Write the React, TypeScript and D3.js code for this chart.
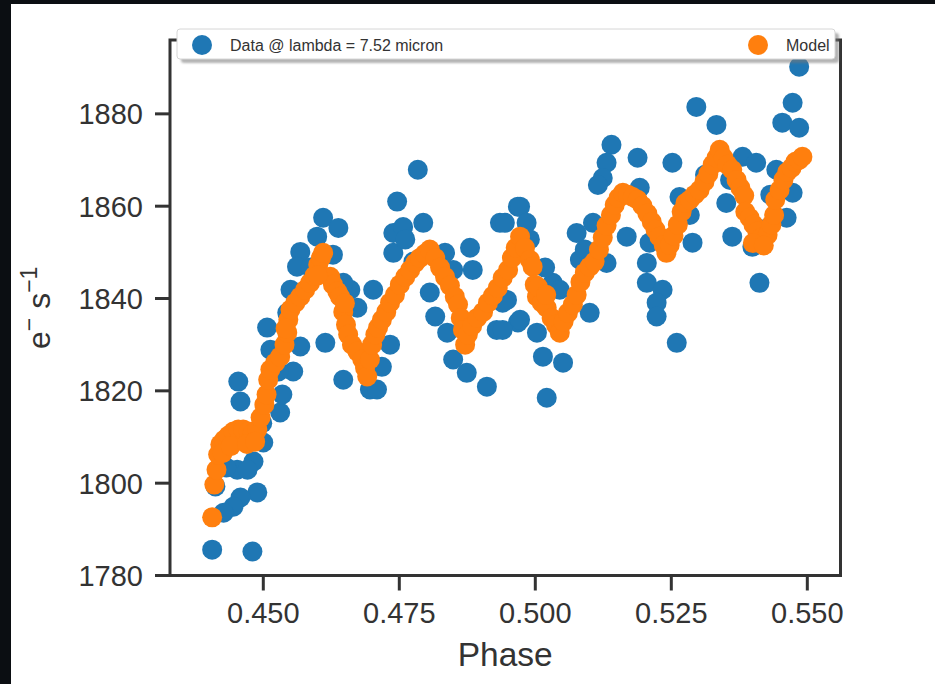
import React from 'react';
import * as d3 from 'd3';

// ---------- data ----------
const dataPhase = [
  0.4406, 0.4480, 0.4489, 0.4458, 0.4445, 0.4427, 0.4412, 0.4452, 0.4482, 0.4500,
  0.4531, 0.4458, 0.4454, 0.4507, 0.4513, 0.4555, 0.4568, 0.4550, 0.4544, 0.4568,
  0.4562, 0.4599, 0.4610, 0.4638, 0.4628, 0.4660, 0.4673, 0.4614, 0.4647, 0.4696,
  0.4709, 0.4718, 0.4733, 0.4702, 0.4746, 0.4784, 0.4739, 0.4757, 0.4794, 0.4739,
  0.4806, 0.4816, 0.4838, 0.4849, 0.4874, 0.4911, 0.4834, 0.4849, 0.4885, 0.4935,
  0.4929, 0.4968, 0.4968, 0.4948, 0.5485, 0.5473, 0.5454, 0.5485, 0.5296, 0.5333,
  0.5140, 0.5131, 0.5124, 0.5188, 0.5252, 0.5381, 0.5406, 0.5443, 0.5473, 0.5462,
  0.5362, 0.5399, 0.5412, 0.5265, 0.5351, 0.5289, 0.5210, 0.5205, 0.5205, 0.5234,
  0.5223, 0.5223, 0.5260, 0.5168, 0.5106, 0.5076, 0.5082, 0.5131, 0.5100, 0.4972,
  0.4984, 0.4944, 0.4940, 0.4972, 0.5003, 0.5014, 0.5051, 0.5021, 0.5032, 0.5045,
  0.4940, 0.4432, 0.4471, 0.4498, 0.4535, 0.4528, 0.4587, 0.4647, 0.4761, 0.4776,
  0.4880, 0.4990, 0.5018, 0.5091, 0.5115, 0.5192, 0.5284, 0.5312, 0.5358, 0.5413,
  0.5432,
];
const dataFlux = [
  1785.6, 1785.2, 1798.0, 1796.9, 1794.9, 1793.6, 1799.3, 1802.9, 1804.7, 1808.8,
  1815.3, 1817.7, 1822.0, 1833.7, 1828.9, 1824.2, 1829.6, 1841.9, 1836.9, 1850.1,
  1846.9, 1853.4, 1857.5, 1855.3, 1849.5, 1841.9, 1838.0, 1830.4, 1822.4, 1820.3,
  1820.3, 1825.2, 1830.0, 1841.9, 1861.0, 1867.9, 1854.2, 1855.5, 1856.4, 1849.9,
  1841.3, 1836.1, 1832.6, 1826.8, 1823.9, 1820.9, 1849.9, 1846.2, 1846.2, 1856.4,
  1833.2, 1834.8, 1859.9, 1839.7, 1890.2, 1882.4, 1878.1, 1877.0, 1881.5, 1877.6,
  1873.3, 1869.4, 1866.1, 1870.5, 1869.4, 1870.7, 1869.4, 1867.9, 1862.9, 1857.5,
  1853.4, 1851.2, 1843.4, 1862.0, 1860.7, 1852.1, 1852.1, 1847.7, 1843.4, 1841.9,
  1839.1, 1836.1, 1830.4, 1853.4, 1856.4, 1854.2, 1848.4, 1847.7, 1836.9, 1859.9,
  1856.4, 1856.4, 1833.2, 1835.4, 1832.6, 1827.4, 1826.1, 1818.5, 1843.4, 1841.9,
  1839.1, 1803.4, 1802.9, 1813.0, 1819.2, 1824.2, 1846.7, 1843.4, 1852.8, 1848.0,
  1851.0, 1852.8, 1846.7, 1850.6, 1864.6, 1864.0, 1858.1, 1866.8, 1865.7, 1855.0,
  1862.5,
];

const modelPhase = [
  0.4406, 0.4410, 0.4414, 0.4417, 0.4421, 0.4428, 0.4436, 0.4445, 0.4454, 0.4463,
  0.4473, 0.4480, 0.4489, 0.4495, 0.4502, 0.4506, 0.4509, 0.4513, 0.4522, 0.4531,
  0.4539, 0.4544, 0.4546, 0.4550, 0.4559, 0.4568, 0.4577, 0.4586, 0.4594, 0.4601,
  0.4606, 0.4610, 0.4623, 0.4628, 0.4636, 0.4641, 0.4647, 0.4652, 0.4656, 0.4663,
  0.4673, 0.4682, 0.4687, 0.4691, 0.4696, 0.4700, 0.4706, 0.4711, 0.4718, 0.4726,
  0.4733, 0.4742, 0.4751, 0.4761, 0.4770, 0.4779, 0.4788, 0.4797, 0.4806, 0.4816,
  0.4825, 0.4834, 0.4843, 0.4852, 0.4858, 0.4863, 0.4867, 0.4871, 0.4876, 0.4884,
  0.4893, 0.4904, 0.4913, 0.4922, 0.4931, 0.4940, 0.4950, 0.4957, 0.4964, 0.4972,
  0.4981, 0.4990, 0.4995, 0.4999, 0.5003, 0.5012, 0.5021, 0.5030, 0.5038, 0.5045,
  0.5052, 0.5060, 0.5069, 0.5076, 0.5083, 0.5091, 0.5100, 0.5109, 0.5117, 0.5124,
  0.5131, 0.5139, 0.5146, 0.5153, 0.5161, 0.5170, 0.5179, 0.5188, 0.5197, 0.5206,
  0.5214, 0.5221, 0.5228, 0.5236, 0.5241, 0.5247, 0.5254, 0.5262, 0.5269, 0.5276,
  0.5284, 0.5293, 0.5302, 0.5311, 0.5318, 0.5326, 0.5333, 0.5339, 0.5346, 0.5353,
  0.5362, 0.5370, 0.5377, 0.5384, 0.5386, 0.5394, 0.5401, 0.5408, 0.5416, 0.5427,
  0.5434, 0.5439, 0.5441, 0.5449, 0.5456, 0.5463, 0.5471, 0.5478, 0.5485, 0.5491,
  0.4425, 0.4440, 0.4470, 0.4485, 0.4541, 0.4600, 0.4650, 0.5005, 0.5020, 0.5400,
  0.5420,
];
const modelFlux = [
  1792.6, 1799.7, 1802.9, 1806.2, 1808.4, 1809.4, 1810.3, 1811.2, 1811.6, 1811.6,
  1811.2, 1810.7, 1811.6, 1814.2, 1817.0, 1819.2, 1822.4, 1824.6, 1826.1, 1827.4,
  1830.0, 1832.6, 1835.4, 1837.6, 1839.1, 1840.4, 1841.9, 1843.4, 1844.9, 1847.3,
  1848.8, 1849.9, 1844.7, 1843.0, 1841.5, 1840.4, 1837.1, 1834.3, 1832.2, 1830.0,
  1828.5, 1826.8, 1825.0, 1823.1, 1826.8, 1830.0, 1832.2, 1833.7, 1835.4, 1837.1,
  1839.1, 1840.8, 1843.0, 1844.7, 1846.2, 1847.7, 1848.8, 1849.7, 1850.6, 1848.8,
  1846.7, 1844.7, 1842.8, 1840.4, 1838.7, 1835.8, 1833.2, 1830.0, 1832.2, 1834.1,
  1835.8, 1837.1, 1839.1, 1840.6, 1842.3, 1844.5, 1846.2, 1848.8, 1851.0, 1853.4,
  1851.0, 1848.4, 1846.9, 1843.0, 1840.4, 1839.1, 1838.0, 1835.8, 1834.3, 1832.6,
  1835.0, 1836.9, 1838.7, 1840.8, 1843.6, 1845.6, 1846.9, 1848.0, 1850.6, 1853.2,
  1855.8, 1858.1, 1860.3, 1861.8, 1862.9, 1862.5, 1862.0, 1861.4, 1860.1, 1858.4,
  1856.6, 1854.9, 1853.4, 1851.6, 1849.9, 1851.6, 1853.6, 1856.0, 1858.8, 1860.7,
  1861.4, 1862.5, 1863.5, 1865.3, 1867.0, 1869.0, 1870.5, 1872.2, 1870.5, 1869.0,
  1867.9, 1865.7, 1864.0, 1862.3, 1858.8, 1857.5, 1856.0, 1854.5, 1853.2, 1853.8,
  1856.0, 1858.1, 1861.4, 1863.5, 1865.7, 1867.4, 1868.3, 1869.6, 1870.0, 1870.7,
  1806.5, 1808.0, 1808.5, 1809.0, 1833.5, 1845.0, 1839.0, 1842.5, 1840.8, 1852.0,
  1851.5,
];

const xTicks = [0.45, 0.475, 0.5, 0.525, 0.55];
const yTicks = [1780, 1800, 1820, 1840, 1860, 1880];
const seriesNames = ['Data @ lambda = 7.52 micron', 'Model'];

// ---------- layout ----------
const W = 935;
const H = 684;
const X0 = 170;
const X1 = 840.5;
const Y0 = 575.5;
const Y1 = 40;
const BLUE = '#1f77b4';
const ORANGE = '#ff7f0e';
const INK = '#333333';
const FONT = '"Liberation Sans", Arial, Helvetica, sans-serif';
const R = 10;

export default function App() {
  const x = d3.scaleLinear().domain([0.43285, 0.5561]).range([X0, X1]);
  const y = d3.scaleLinear().domain([1780, 1896]).range([Y0, Y1]);
  const tickLen = 15;

  return (
    <div style={{ position: 'fixed', left: 0, top: 0, width: W, height: H }}>
      <svg width={W} height={H} style={{ display: 'block', fontFamily: FONT }}>
        <defs>
          <clipPath id="plotclip">
            <rect x={X0} y={Y1} width={X1 - X0} height={Y0 - Y1} />
          </clipPath>
          <filter id="shadowblur" x="-5%" y="-50%" width="110%" height="200%">
            <feGaussianBlur stdDeviation="1.2" />
          </filter>
        </defs>
        <rect x={0} y={0} width={W} height={H} fill="#ffffff" />
        <rect x={0} y={0} width={11} height={H} fill="#0b0e12" />
        <rect x={0} y={0} width={W} height={4} fill="#0b0e12" />

        {/* points */}
        <g clipPath="url(#plotclip)">
          {dataPhase.map((p, i) => (
            <circle key={'d' + i} cx={x(p)} cy={y(dataFlux[i])} r={R} fill={BLUE} />
          ))}
          {modelPhase.map((p, i) => (
            <circle key={'m' + i} cx={x(p)} cy={y(modelFlux[i])} r={R} fill={ORANGE} />
          ))}
        </g>

        {/* spines */}
        <rect x={X0} y={Y1} width={X1 - X0} height={Y0 - Y1} fill="none" stroke={INK} strokeWidth={3} />

        {/* x ticks */}
        {xTicks.map((t) => (
          <g key={'xt' + t}>
            <line x1={x(t)} x2={x(t)} y1={Y0} y2={Y0 + tickLen} stroke={INK} strokeWidth={3} />
            <text x={x(t)} y={Y0 + 47} textAnchor="middle" fontSize={29} fill={INK}>
              {d3.format('.3f')(t)}
            </text>
          </g>
        ))}
        {/* y ticks */}
        {yTicks.map((t) => (
          <g key={'yt' + t}>
            <line x1={X0 - tickLen} x2={X0} y1={y(t)} y2={y(t)} stroke={INK} strokeWidth={3} />
            <text x={X0 - 27} y={y(t) + 10.5} textAnchor="end" fontSize={29} fill={INK}>
              {t}
            </text>
          </g>
        ))}

        {/* axis labels */}
        <text x={(X0 + X1) / 2} y={666} textAnchor="middle" fontSize={33.5} fill={INK}>
          Phase
        </text>
        <text transform={`translate(50, ${(Y0 + Y1) / 2}) rotate(-90)`} textAnchor="middle" fontSize={32} fill={INK}>
          <tspan>e</tspan>
          <tspan fontSize={23} dy={-13}>−</tspan>
          <tspan dy={13}> s</tspan>
          <tspan fontSize={23} dy={-13}>−1</tspan>
        </text>

        {/* legend */}
        <rect x={181} y={33} width={658} height={30} rx={3} fill="#777" opacity={0.55} filter="url(#shadowblur)" />
        <rect x={177} y={29} width={658} height={30} rx={3} fill="#ffffff" stroke="#d6d6d6" strokeWidth={1} />
        <circle cx={202} cy={45} r={R} fill={BLUE} />
        <text x={230} y={50.5} fontSize={16} fill={INK}>{seriesNames[0]}</text>
        <circle cx={758} cy={45} r={R} fill={ORANGE} />
        <text x={786} y={50.5} fontSize={16} fill={INK}>{seriesNames[1]}</text>
      </svg>
    </div>
  );
}
